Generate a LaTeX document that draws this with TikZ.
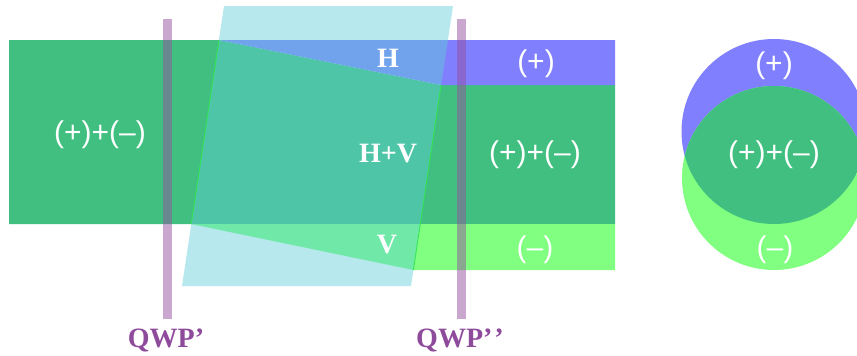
\documentclass[tikz,border=0pt]{standalone}
\usepackage{fontspec}
\setmainfont{Liberation Serif}
\newfontfamily\lsans{Liberation Sans}
\definecolor{dgreen}{RGB}{64,191,128}
\definecolor{hblue}{RGB}{128,128,255}
\definecolor{lgreen}{RGB}{128,255,128}
\definecolor{plate}{RGB}{95,205,215}
\definecolor{qwpbar}{RGB}{149,80,160}
\definecolor{qwptext}{RGB}{142,75,155}
\definecolor{edgegreen}{RGB}{50,230,80}
\tikzset{
  serlab/.style={text=white, font=\fontsize{28}{28}\selectfont\bfseries, inner sep=0pt, anchor=base},
  sanlab/.style={text=white, font=\fontsize{30}{30}\selectfont\lsans, inner sep=0pt, anchor=base},
  qwplab/.style={text=qwptext, font=\fontsize{28}{28}\selectfont\bfseries, inner sep=0pt, anchor=base},
  bar/.style={fill=qwpbar, fill opacity=0.5, draw=none},
}
\begin{document}
\begin{tikzpicture}[x=1pt,y=1pt]
\useasboundingbox (0,0) rectangle (857,-356);
% beam
\fill[dgreen] (9,-40) -- (219,-40) -- (441,-85) -- (615,-85) -- (615,-224) -- (9,-224) -- cycle;
\fill[hblue] (219,-40) -- (615,-40) -- (615,-85) -- (441,-85) -- cycle;
\fill[lgreen] (191,-224) -- (615,-224) -- (615,-270) -- (413.4,-270) -- cycle;
% rotator plate
\fill[plate, fill opacity=0.46] (224,-6) -- (453,-6) -- (411,-286) -- (182,-286) -- cycle;
\draw[edgegreen, line width=0.8pt] (219,-40) -- (191.3,-224);
\draw[edgegreen, line width=0.8pt] (441,-85) -- (413.4,-270);
% QWP bars
\fill[bar] (163,-19) rectangle (172,-319);
\fill[bar] (457,-19) rectangle (466,-319);
% circles
\fill[hblue] (774,-131.5) circle[radius=92.5];
\fill[lgreen] (774,-178) circle[radius=92];
\begin{scope}
  \clip (774,-131.5) circle[radius=92.5];
  \fill[dgreen] (774,-178) circle[radius=92];
\end{scope}
% labels
\node[sanlab] (inL) at (100,-142) {(+)+(–)};
\node[serlab] (lH) at (388,-67) {H};
\node[serlab] (lHV) at (388,-162) {H+V};
\node[serlab] (lV) at (387,-253) {V};
\node[sanlab] (oP) at (536,-71) {(+)};
\node[sanlab] (oPM) at (535,-162) {(+)+(–)};
\node[sanlab] (oM) at (535,-257) {(–)};
\node[sanlab] (cP) at (774,-73) {(+)};
\node[sanlab] (cPM) at (774,-162) {(+)+(–)};
\node[sanlab] (cM) at (775,-257) {(–)};
\node[qwplab] (q1) at (166,-347) {QWP’};
\node[qwplab] (q2) at (460,-347) {QWP’\kern2pt’};
\end{tikzpicture}
\end{document}
